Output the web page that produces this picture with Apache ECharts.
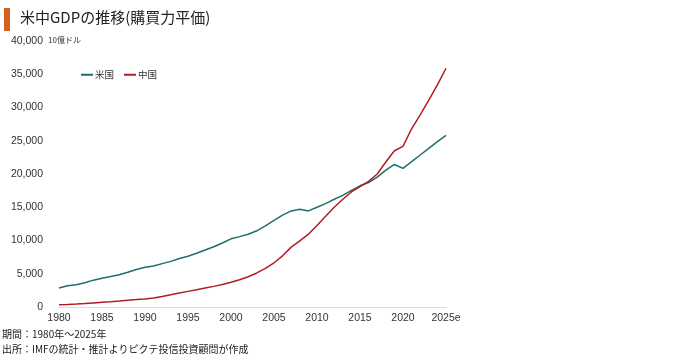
<!DOCTYPE html>
<html><head><meta charset="utf-8">
<script src="https://cdn.jsdelivr.net/npm/echarts@6/dist/echarts.min.js"></script>
<style>html,body{margin:0;padding:0;background:#fff}#c{width:680px;height:358px}</style>
</head><body><div id="c"></div>
<script>
var years = [];
for (var y = 1980; y <= 2025; y++) years.push(String(y));
var tickLabels = ['1980','1985','1990','1995','2000','2005','2010','2015','2020','2025e'];
var usGDP = [2857,3207,3343,3634,4037,4339,4580,4855,5236,5642,
             5963,6158,6520,6859,7287,7640,8073,8578,9063,9631,
             10252,10582,10936,11458,12214,13037,13815,14452,14713,14449,
             14992,15543,16197,16785,17527,18225,18715,19519,20580,21433,
             20850,21850,22860,23860,24860,25820];
var chinaGDP = [330,380,440,510,610,710,790,900,1030,1110,
                1200,1360,1580,1830,2100,2350,2600,2860,3100,3380,
                3720,4100,4550,5120,5800,6650,7700,9000,9950,10950,
                12250,13650,15000,16200,17300,18100,18900,20000,21800,23500,
                24150,26800,28900,31100,33400,35900];
var seriesNames = ['米国','中国'];
var colors = ['#1f6e6c','#b01e23'];

var chart = echarts.init(document.getElementById('c'));
var FONT = '"Liberation Sans", "Noto Sans CJK JP", sans-serif';
chart.setOption({
  animation: false,
  textStyle: {fontFamily: FONT},
  title: {
    text: '米中GDPの推移(購買力平価)',
    left: 15, top: 5,
    textStyle: {fontFamily: '"Noto Sans CJK JP", sans-serif', fontSize: 15, fontWeight: 'normal', color: '#222'}
  },
  graphic: [
    {type: 'rect', left: 4, top: 8, shape: {width: 6, height: 23}, style: {fill: '#d2601f'}},
    {type: 'text', left: 48, top: 36, style: {text: '10億ドル', fontSize: 8, fill: '#333', fontFamily: '"Noto Sans CJK JP", sans-serif'}},
    {type: 'text', left: 2, top: 329, style: {text: '期間：1980年～2025年', fontSize: 10, fill: '#222', fontFamily: '"Noto Sans CJK JP", sans-serif'}},
    {type: 'text', left: 2, top: 344, style: {text: '出所：IMFの統計・推計よりピクテ投信投資顧問が作成', fontSize: 10, fill: '#222', fontFamily: '"Noto Sans CJK JP", sans-serif'}}
  ],
  legend: {
    data: seriesNames,
    left: 76, top: 65,
    icon: 'rect', itemWidth: 12, itemHeight: 2, itemGap: 10,
    textStyle: {fontSize: 9.5, color: '#333', fontFamily: '"Noto Sans CJK JP", sans-serif', padding: [0,0,0,-3]}
  },
  grid: {left: 59, right: 234, top: 41, bottom: 51},
  xAxis: {
    type: 'category', data: years, boundaryGap: false,
    axisLine: {lineStyle: {color: '#dcdcdc', width: 1}},
    axisTick: {show: false},
    axisLabel: {
      interval: 4, fontSize: 10.5, color: '#333', margin: 6,
      formatter: function (v, i) { return tickLabels[i / 5]; }
    }
  },
  yAxis: {
    type: 'value', min: 0, max: 40000, interval: 5000,
    splitLine: {show: false},
    axisLine: {show: false}, axisTick: {show: false},
    axisLabel: {
      fontSize: 10.5, color: '#333', margin: 16,
      formatter: function (v) { return v.toLocaleString('en-US'); }
    }
  },
  series: [
    {name: seriesNames[0], type: 'line', data: usGDP, symbol: 'none', lineStyle: {width: 1.5, color: colors[0]}, itemStyle: {color: colors[0]}},
    {name: seriesNames[1], type: 'line', data: chinaGDP, symbol: 'none', lineStyle: {width: 1.5, color: colors[1]}, itemStyle: {color: colors[1]}}
  ]
});
</script></body></html>
